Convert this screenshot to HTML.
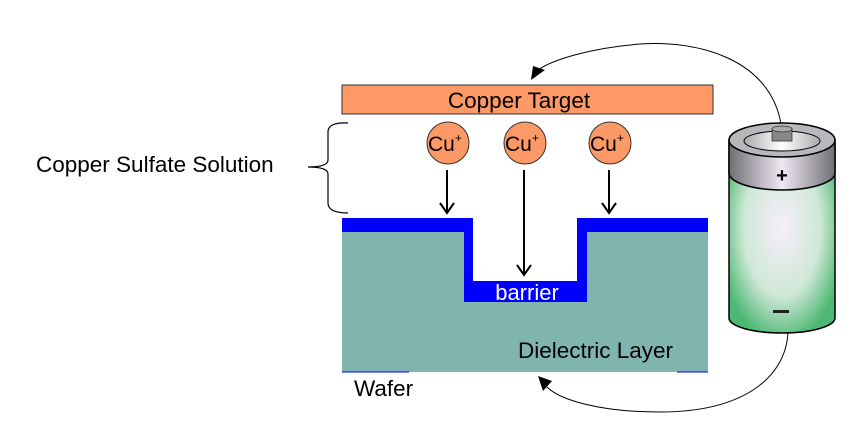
<!DOCTYPE html>
<html><head><style>body{margin:0;background:#fff}svg{display:block}</style></head><body>
<svg width="865" height="424" viewBox="0 0 865 424" xmlns="http://www.w3.org/2000/svg" font-family="Liberation Sans, sans-serif">
<defs>
<radialGradient id="g" cx="0.5" cy="0.45" r="0.6"><stop offset="0" stop-color="#f6eefa"/><stop offset="0.6" stop-color="#cfe8d6"/><stop offset="1" stop-color="#4db874"/></radialGradient>
<linearGradient id="c" x1="0" x2="1"><stop offset="0" stop-color="#6f6f74"/><stop offset="0.5" stop-color="#f0e8f4"/><stop offset="1" stop-color="#6f6f74"/></linearGradient>
<linearGradient id="t" x1="0" x2="1"><stop offset="0" stop-color="#aaa"/><stop offset="0.5" stop-color="#fff"/><stop offset="1" stop-color="#aaa"/></linearGradient>
</defs>
<text x="36" y="172" font-size="22.5">Copper Sulfate Solution</text>
<path d="M348 123 Q328 122 328 132 L328 160 Q328 167 308 167 Q328 167 328 174 L328 203 Q328 213 348 213" fill="none" stroke="#000" stroke-width="1.2"/>
<rect x="342" y="85" width="371" height="29" fill="#fd9966" stroke="#333" stroke-width="1"/>
<text x="519" y="108" font-size="22.5" text-anchor="middle">Copper Target</text>
<g fill="#fd9966" stroke="#333" stroke-width="1">
<circle cx="448" cy="143" r="21"/><circle cx="525" cy="143" r="21"/><circle cx="610" cy="143" r="21"/></g>
<g font-size="21"><text x="428" y="151">Cu<tspan font-size="12" dy="-9">+</tspan></text>
<text x="505" y="151">Cu<tspan font-size="12" dy="-9">+</tspan></text>
<text x="590" y="151">Cu<tspan font-size="12" dy="-9">+</tspan></text></g>
<path d="M342 232 H708 V372 H342 Z" fill="#80b4af"/>
<path d="M342 218 H473 V281 H577 V218 H708 V232 H587 V302 H464 V232 H342 Z" fill="#0000ff"/>
<rect x="473" y="218" width="104" height="63" fill="#fff"/>
<line x1="342" y1="372" x2="409" y2="372" stroke="#00f"/><line x1="677" y1="372" x2="708" y2="372" stroke="#00f"/>
<text x="527" y="300" font-size="22" fill="#fff" text-anchor="middle">barrier</text>
<text x="518" y="358" font-size="22.5">Dielectric Layer</text>
<text x="354" y="396" font-size="22.5">Wafer</text>
<g stroke="#000" stroke-width="2" fill="none">
<path d="M447 170 V212 M440 203 L447 213 L454 203"/>
<path d="M524 170 V274 M517 265 L524 275 L531 265"/>
<path d="M609 170 V212 M602 203 L609 213 L616 203"/>
</g>
<path d="M781 124 C770 60 700 40 640 44 C590 48 552 60 538 70" fill="none" stroke="#000" stroke-width="1"/>
<polygon points="531,80 533,66 545,70" fill="#000"/>
<path d="M788 333 C785 380 740 412 660 412 C600 412 560 400 547 387" fill="none" stroke="#000" stroke-width="1"/>
<polygon points="538,376 552,381 543,391" fill="#000"/>
<path d="M729 140 V318 A53 15 0 0 0 835 318 V140 Z" fill="url(#g)" stroke="#000" stroke-width="1.5"/>
<path d="M729 140 V173 A53 17 0 0 0 835 173 V140 Z" fill="url(#c)" stroke="#000" stroke-width="1.5"/>
<ellipse cx="782" cy="140" rx="53" ry="17" fill="#b8b8bc" stroke="#000" stroke-width="1.5"/>
<ellipse cx="782" cy="141" rx="38" ry="10" fill="url(#t)" stroke="#000" stroke-width="1"/>
<rect x="772" y="129" width="20" height="12" fill="#888" stroke="#333" stroke-width="0.8"/>
<ellipse cx="782" cy="129" rx="10" ry="3" fill="#aaa" stroke="#333" stroke-width="0.8"/>
<text x="782" y="182" font-size="20" font-weight="bold" text-anchor="middle">+</text>
<rect x="773" y="310" width="16" height="3" fill="#222"/>
</svg>
</body></html>
